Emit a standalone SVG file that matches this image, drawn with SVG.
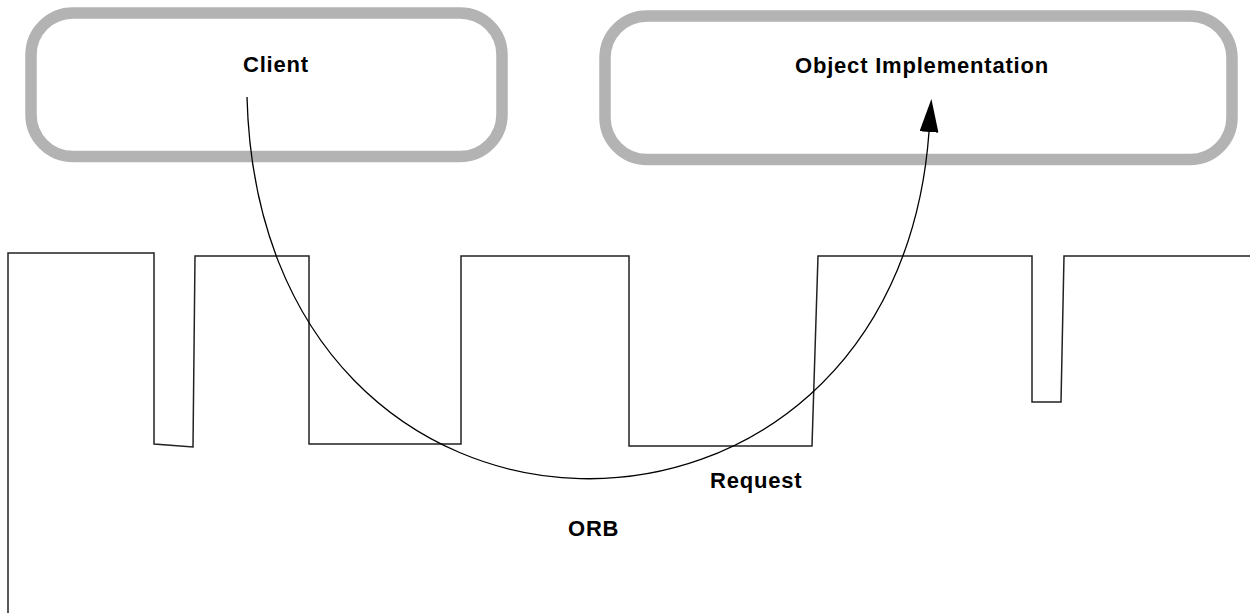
<svg xmlns="http://www.w3.org/2000/svg" width="1250" height="613" viewBox="0 0 1250 613">
<style>
.box{fill:none;stroke:#b3b3b3;stroke-width:11.5}
.lbl{font-family:"Liberation Sans",Arial,sans-serif;font-weight:bold;font-size:22px;letter-spacing:0.8px;fill:#000}
.orb{fill:none;stroke:#222;stroke-width:1.5}
.req{fill:none;stroke:#000;stroke-width:1.3}
</style>
<defs>
<marker id="arrow" markerUnits="userSpaceOnUse" viewBox="0 0 33 19" markerWidth="33" markerHeight="19" refX="0" refY="9.5" orient="auto">
<path d="M0,0 L33,9.5 L0,19 z" fill="#000"/>
</marker>
</defs>
<g id="orb">
<polyline class="orb" points="8,613 8,253 154,253 154,444 193,447 195,256 309,256 309,444 461,444 461,256 629,256 629,446 812,446 818,256 1032,256 1032,402 1061,402 1064,256 1250,256"/>
<text class="lbl" x="568" y="536">ORB</text>
</g>
<g id="client">
<rect class="box" x="31" y="13" width="471" height="143.5" rx="42" ry="42"/>
<text class="lbl" x="243" y="72">Client</text>
</g>
<g id="object-implementation">
<rect class="box" x="605" y="16" width="627" height="143.5" rx="42" ry="42"/>
<text class="lbl" x="795" y="73">Object Implementation</text>
</g>
<g id="connectors">
<path class="req" d="M247,97 C260,600 895,600 929,132" marker-end="url(#arrow)"/>
<text class="lbl" x="710" y="488">Request</text>
</g>
</svg>
